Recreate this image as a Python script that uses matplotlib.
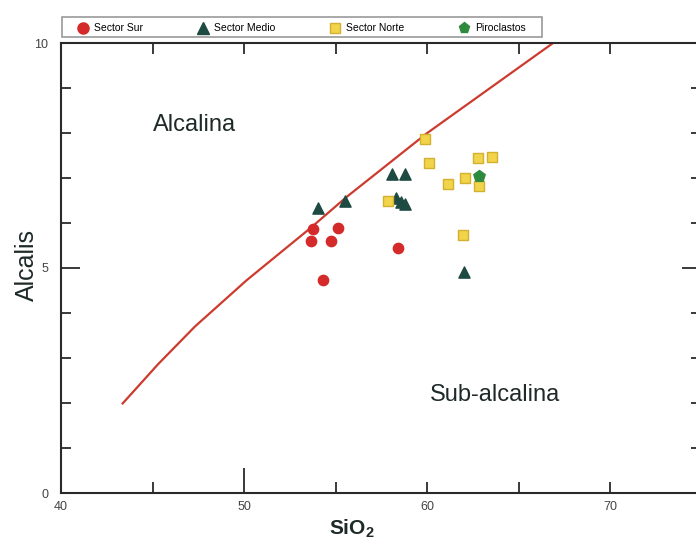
import matplotlib
matplotlib.use("Agg")
import matplotlib.pyplot as plt
from matplotlib.lines import Line2D
from matplotlib.patches import Rectangle

plt.rcParams['font.family'] = ['Liberation Sans', 'DejaVu Sans']
plt.rcParams['mathtext.fontset'] = 'custom'
plt.rcParams['mathtext.rm'] = 'Liberation Sans'
plt.rcParams['mathtext.bf'] = 'Liberation Sans:bold'

# Data
sur_x = [53.75, 53.66, 55.12, 54.74, 58.43, 54.33]
sur_y = [5.87, 5.60, 5.89, 5.60, 5.44, 4.74]

medio_x = [54.03, 55.52, 58.07, 58.80, 58.30, 58.58, 58.80, 62.04]
medio_y = [6.33, 6.50, 7.10, 7.08, 6.55, 6.47, 6.42, 4.91]

norte_x = [59.89, 60.11, 57.89, 61.13, 62.08, 62.80, 63.53, 62.86, 61.98]
norte_y = [7.86, 7.34, 6.48, 6.87, 6.99, 7.45, 7.47, 6.82, 5.74]

piro_x = [62.84]
piro_y = [7.04]

# Alkaline / sub-alkaline dividing curve
curve_x = [43.37, 45.3, 47.32, 50.15, 53.61, 55.61, 59.98, 66.89]
curve_y = [1.99, 2.86, 3.70, 4.73, 5.88, 6.58, 7.99, 10.0]

labels = ["Sector Sur", "Sector Medio", "Sector Norte", "Piroclastos"]
x_ticks = [40, 50, 60, 70]
x_minor = [45, 55, 65]
y_ticks = [0, 5, 10]
y_minor = [1, 2, 3, 4, 6, 7, 8, 9]

W, H = 696, 542
fig = plt.figure(figsize=(W / 100, H / 100), dpi=100)
x0, x1 = 61, 701.5
y_top, y_bot = 43, 493
ax = fig.add_axes([x0 / W, 1 - y_bot / H, (x1 - x0) / W, (y_bot - y_top) / H])
ax.set_xlim(40, 75)
ax.set_ylim(0, 10)

red = '#d42a2a'
teal = '#1d4a42'
yellow = '#f2d44a'
yedge = '#d2b030'
green = '#2e8b3e'

ax.plot(curve_x, curve_y, color='#cc3b2e', lw=1.6, zorder=2)
ax.scatter(sur_x, sur_y, s=55, marker='o', color=red, zorder=3)
ax.scatter(medio_x, medio_y, s=65, marker='^', color=teal, zorder=3)
ax.scatter(norte_x, norte_y, s=45, marker='s', facecolor=yellow, edgecolor=yedge, linewidths=1, zorder=3)
ax.scatter(piro_x, piro_y, s=75, marker='p', color=green, zorder=4)

for s in ax.spines.values():
    s.set_linewidth(1.5)
    s.set_color('#2a2a2a')

ax.set_xticks(x_ticks)
ax.set_xticks(x_minor, minor=True)
ax.set_yticks(y_ticks)
ax.set_yticks(y_minor, minor=True)
ax.tick_params(axis='x', which='both', direction='in', top=True, length=8, width=1.3,
               color='#2a2a2a', labelsize=9, labelcolor='#444444', pad=6)
ax.tick_params(axis='y', which='major', direction='in', right=True, length=14, width=1.3,
               color='#2a2a2a', labelsize=9, labelcolor='#444444', pad=9)
ax.tick_params(axis='y', which='minor', direction='in', right=True, length=7, width=1.3,
               color='#2a2a2a')
# long bottom tick at 50
ax.xaxis.get_major_ticks()[1].tick1line.set_markersize(18)

ax.text(47.32, 8.18, 'Alcalina', fontsize=17, color='#1e2a28', ha='center', va='center')
ax.text(63.72, 2.18, 'Sub-alcalina', fontsize=17, color='#1e2a28', ha='center', va='center')

fig.text(27 / W, 1 - 265 / H, 'Alcalis', rotation=90, fontsize=18, color='#1e2a28',
         ha='center', va='center')
fig.text(352 / W, 1 - 529 / H, r'SiO$_\mathbf{2}$', fontsize=15, fontweight='bold',
         color='#1e2a28', ha='center', va='center')

handles = [
    Line2D([], [], ls='none', marker='o', markersize=8, color=red),
    Line2D([], [], ls='none', marker='^', markersize=9, color=teal),
    Line2D([], [], ls='none', marker='s', markersize=7, markerfacecolor=yellow, markeredgecolor=yedge),
    Line2D([], [], ls='none', marker='p', markersize=8, color=green),
]
leg = fig.legend(handles, labels, ncol=4, mode='expand', loc='lower left',
                 bbox_to_anchor=(73 / W, 1 - 37 / H, (530 - 73) / W, 20 / H),
                 fontsize=7.5, frameon=False,
                 handletextpad=0.5, borderpad=0.35, handlelength=1.2, borderaxespad=0)
fig.patches.append(Rectangle((62 / W, 1 - 37 / H), 480 / W, 20 / H, transform=fig.transFigure,
                             fill=False, edgecolor='#9a9a9a', linewidth=1.2))

fig.savefig('out.png', dpi=100)
